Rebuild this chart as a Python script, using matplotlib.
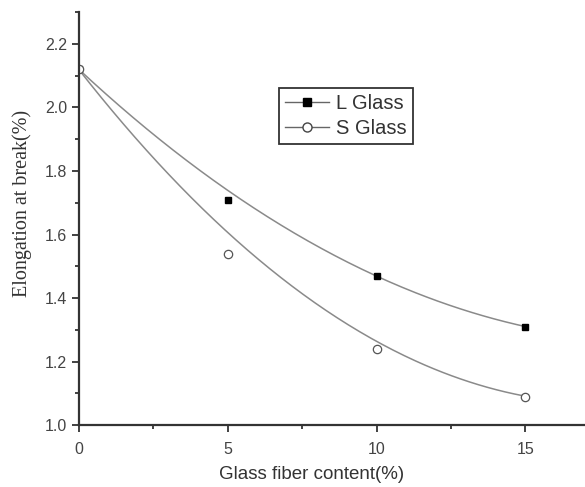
import numpy as np
import matplotlib.pyplot as plt
from matplotlib.ticker import MultipleLocator

content = [0, 5, 10, 15]
l_glass = [2.12, 1.71, 1.47, 1.31]
s_glass = [2.12, 1.54, 1.24, 1.09]
# values of the drawn fit curves at the same x
l_curve = [2.12, 1.738, 1.47, 1.31]
s_curve = [2.12, 1.603, 1.267, 1.09]

# the fit curves are 2nd order polynomials
pl = np.polyfit(content, l_curve, 2)
ps = np.polyfit(content, s_curve, 2)
xs = np.linspace(0, 15, 200)

plt.rcParams['font.family'] = ['Liberation Sans', 'DejaVu Sans']

fig = plt.figure(figsize=(5.85, 4.87), dpi=100)
ax = fig.add_axes([0.135, 0.127, 0.865, 0.848])

ax.plot(xs, np.polyval(pl, xs), color='#8a8a8a', lw=1.1)
ax.plot(xs, np.polyval(ps, xs), color='#8a8a8a', lw=1.1)
ax.plot(content, l_glass, 's', color='black', ms=5, ls='none')
ax.plot(content, s_glass, 'o', mfc='white', mec='#555555', mew=0.9, ms=6, ls='none')

# legend handles (line + marker)
hl, = ax.plot([], [], '-s', color='#666666', mfc='black', mec='black', ms=6, lw=1)
hs, = ax.plot([], [], '-o', color='#666666', mfc='white', mec='#444444', ms=6.5, lw=1)
leg = ax.legend([hl, hs], ['L Glass', 'S Glass'], loc='upper left',
                bbox_to_anchor=(0.395, 0.816), fancybox=False, framealpha=1,
                edgecolor='#333333', fontsize=14.5, handlelength=2.2,
                borderpad=0.3, labelspacing=0.3, handletextpad=0.35,
                borderaxespad=0)
leg.get_frame().set_linewidth(1.3)
for t in leg.get_texts():
    t.set_color('#333333')

ax.set_xlim(0, 17)
ax.set_ylim(1.0, 2.3)
ax.set_xticks([0, 5, 10, 15])
ax.set_yticks([1.0, 1.2, 1.4, 1.6, 1.8, 2.0, 2.2])
ax.xaxis.set_minor_locator(MultipleLocator(2.5))
ax.yaxis.set_minor_locator(MultipleLocator(0.1))
ax.tick_params(which='major', direction='out', length=5, width=1.3,
               labelsize=11.5, labelcolor='#444444', color='#333333')
ax.tick_params(axis='x', which='major', pad=7)
ax.tick_params(which='minor', direction='out', length=3, width=1.3, color='#333333')
ax.spines['top'].set_visible(False)
ax.spines['right'].set_visible(False)
ax.spines['left'].set_linewidth(1.6)
ax.spines['bottom'].set_linewidth(1.6)
ax.spines['left'].set_color('#333333')
ax.spines['bottom'].set_color('#333333')

ax.set_xlabel('Glass fiber content(%)', fontsize=13.5, color='#333333')
ax.xaxis.set_label_coords(0.4595, -0.099)
ax.set_ylabel('Elongation at break(%)', fontsize=14.5, color='#333333',
              family='Liberation Serif')
ax.yaxis.set_label_coords(-0.092, 0.537)

fig.savefig('out.png', dpi=100)
